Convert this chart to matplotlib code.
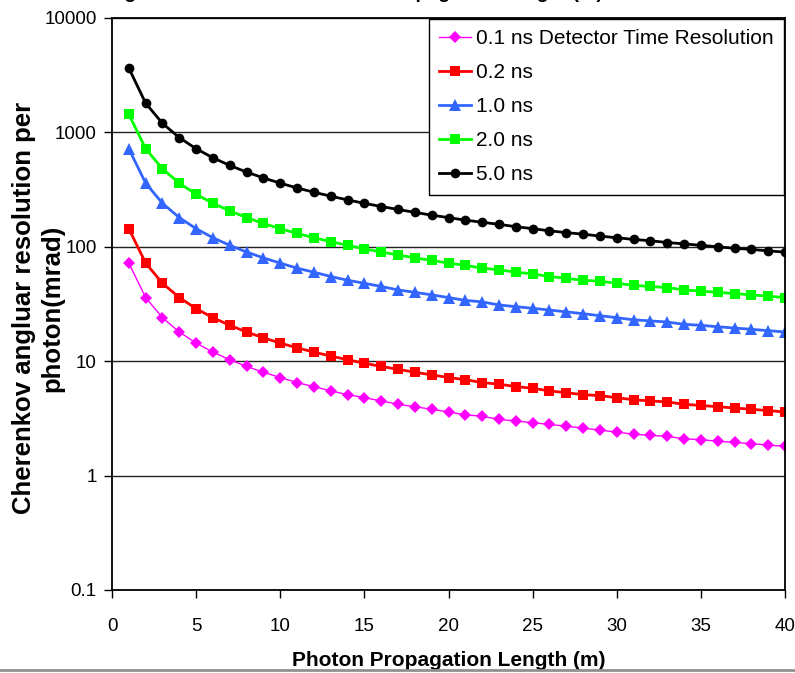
import numpy as np
import matplotlib
matplotlib.use('Agg')
import matplotlib.pyplot as plt
from matplotlib.lines import Line2D

plt.rcParams['font.family'] = ['Liberation Sans', 'DejaVu Sans']

# photon propagation length (m)
length = list(range(1, 41))

# angular resolution per photon (mrad)
res_01 = [72, 36, 24, 18, 14.4, 12, 10.3, 9, 8, 7.2, 6.5, 6, 5.5, 5.1, 4.8, 4.5, 4.2, 4, 3.8, 3.6,
          3.4, 3.3, 3.1, 3, 2.9, 2.8, 2.7, 2.6, 2.5, 2.4, 2.3, 2.25, 2.2, 2.1, 2.06, 2, 1.95, 1.9, 1.85, 1.8]
res_02 = [144, 72, 48, 36, 28.8, 24, 20.6, 18, 16, 14.4, 13.1, 12, 11.1, 10.3, 9.6, 9, 8.5, 8, 7.6, 7.2,
          6.9, 6.5, 6.3, 6, 5.8, 5.5, 5.3, 5.1, 5, 4.8, 4.6, 4.5, 4.4, 4.2, 4.1, 4, 3.9, 3.8, 3.7, 3.6]
res_10 = [720, 360, 240, 180, 144, 120, 103, 90, 80, 72, 65, 60, 55, 51, 48, 45, 42, 40, 38, 36,
          34, 33, 31, 30, 29, 28, 27, 26, 25, 24, 23, 22.5, 22, 21, 20.6, 20, 19.5, 19, 18.5, 18]
res_20 = [1440, 720, 480, 360, 288, 240, 206, 180, 160, 144, 131, 120, 111, 103, 96, 90, 85, 80, 76, 72,
          69, 65, 63, 60, 58, 55, 53, 51, 50, 48, 46, 45, 44, 42, 41, 40, 39, 38, 37, 36]
res_50 = [3650, 1800, 1200, 900, 720, 600, 514, 450, 400, 360, 327, 300, 277, 257, 240, 225, 212, 200, 189, 180,
          171, 164, 157, 150, 144, 138, 133, 129, 124, 120, 116, 113, 109, 106, 103, 100, 97, 95, 92, 90]

labels = ['0.1 ns Detector Time Resolution', '0.2 ns', '1.0 ns', '2.0 ns', '5.0 ns']
ytick_vals = [0.1, 1, 10, 100, 1000, 10000]
ytick_labels = ['0.1', '1', '10', '100', '1000', '10000']

fig = plt.figure(figsize=(7.95, 6.73), dpi=100)
ax = fig.add_axes([112/795, 1 - 590/673, (785 - 112)/795, (590 - 18)/673])

styles = [
    dict(color='#FF00FF', marker='D', ms=6.5, lw=1.0),
    dict(color='#FF0000', marker='s', ms=7.5, lw=2.0),
    dict(color='#3366FF', marker='^', ms=8.5, lw=2.0),
    dict(color='#00FF00', marker='s', ms=6.5, lw=2.0),
    dict(color='#000000', marker='o', ms=7.0, lw=2.0),
]
for y, lab, st in zip([res_01, res_02, res_10, res_20, res_50], labels, styles):
    ax.plot(length, y, label=lab, markeredgewidth=0, **st)

ax.set_yscale('log')
ax.set_ylim(0.1, 10000)
ax.set_xlim(0, 40)
ax.set_yticks(ytick_vals)
ax.set_yticklabels(ytick_labels)
ax.yaxis.set_minor_locator(matplotlib.ticker.NullLocator())
ax.set_xticks(range(0, 41, 5))
ax.tick_params(axis='both', direction='out', length=6, width=1, labelsize=13.5, colors='black')
ax.tick_params(axis='x', pad=14)
ax.tick_params(axis='y', pad=5)

ax.grid(axis='y', which='major', color='#222222', lw=1)
ax.set_axisbelow(True)
for s in ax.spines.values():
    s.set_color('black')
    s.set_linewidth(1.3)

ax.set_xlabel('Photon Propagation Length (m)', fontsize=15, fontweight='bold', labelpad=12)

# y label, two centred lines drawn separately
fig.text(24/795, 1 - 308/673, 'Cherenkov angluar resolution per', rotation=90,
         ha='center', va='center', fontsize=18.5, fontweight='bold')
fig.text(52/795, 1 - 308/673, 'photon(mrad)', rotation=90,
         ha='center', va='center', fontsize=18.5, fontweight='bold')

leg = ax.legend(loc='upper right', fontsize=15, frameon=True, fancybox=False, framealpha=1,
                edgecolor='black', borderaxespad=0.05, handlelength=1.5, handletextpad=0.25,
                labelspacing=0.72, borderpad=0.5)
leg.get_frame().set_linewidth(1.0)

# title cut off at the top of the image
fig.text(603/795, 1 + 2/673, 'Cherenkov Angular Resolution vs Photon Propagation Length (m)',
         ha='right', va='baseline', fontsize=14, fontweight='bold')

# grey border line at the bottom
fig.add_artist(Line2D([0, 1], [3/673, 3/673], color='#909090', lw=2, transform=fig.transFigure))

fig.savefig('out.png', dpi=100)
